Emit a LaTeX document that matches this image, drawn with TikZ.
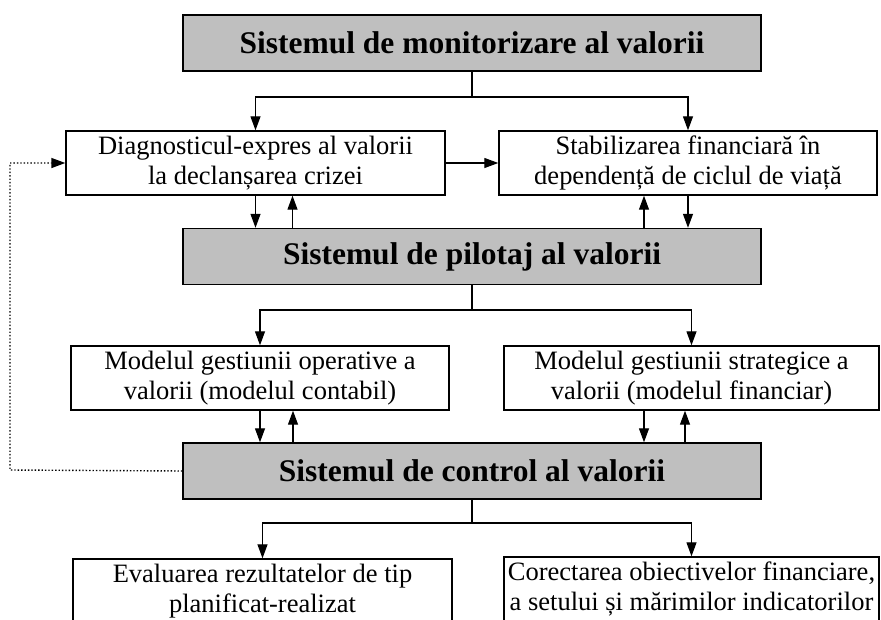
\documentclass[tikz,border=0pt]{standalone}
\usepackage{fontspec}
\setmainfont{Liberation Serif}
\usetikzlibrary{arrows.meta}

\tikzset{
  sysbox/.style={draw, line width=1.4pt, fill=black!25, minimum width=578pt,
    minimum height=56pt, font=\fontsize{31.5}{36}\selectfont\bfseries},
  modbox/.style={draw, line width=1.4pt, fill=white, minimum height=64pt,
    align=center, inner sep=2pt, font=\fontsize{26.5}{30}\selectfont},
  arr/.style={line width=1.2pt, -{Triangle[length=14pt,width=10pt]}},
  feedback/.style={line width=1.4pt, dotted, -{Triangle[length=14pt,width=10pt]}},
}

\begin{document}
\begin{tikzpicture}[x=1pt,y=-1pt]
    \useasboundingbox (0,0) rectangle (881,619);
    \clip (0,0) rectangle (881,619);

    % monitorizare
    \node[sysbox] (mon) at (472,43) {Sistemul de monitorizare al valorii};
    \node[modbox, minimum width=379pt] (diag) at (255.5,163) {Diagnosticul-expres al valorii\\la declanșarea crizei};
    \node[modbox, minimum width=378pt] (stab) at (688,163) {Stabilizarea financiară în\\dependență de ciclul de viață};
    \coordinate (monj) at (472,97);
    \draw[line width=1.2pt] (mon.south) -- (monj);
    \draw[arr] (monj) -| (diag.north);
    \draw[arr] (monj) -| (stab.north);
    \draw[arr] (diag.east) -- (stab.west);

    % pilotaj
    \node[sysbox] (pil) at (472,256.5) {Sistemul de pilotaj al valorii};
    \draw[arr] (diag.south) -- (diag.south |- pil.north);
    \draw[arr] ([xshift=37pt]diag.south |- pil.north) -- ([xshift=37pt]diag.south);
    \draw[arr] ([xshift=-44pt]stab.south |- pil.north) -- ([xshift=-44pt]stab.south);
    \draw[arr] (stab.south) -- (stab.south |- pil.north);

    \node[modbox, minimum width=378pt] (oper) at (260,378) {Modelul gestiunii operative a\\valorii (modelul contabil)};
    \node[modbox, minimum width=375pt] (strat) at (691.5,378) {Modelul gestiunii strategice a\\valorii (modelul financiar)};
    \coordinate (pilj) at (472,310);
    \draw[line width=1.2pt] (pil.south) -- (pilj);
    \draw[arr] (pilj) -| (oper.north);
    \draw[arr] (pilj) -| (strat.north);

    % control
    \node[sysbox] (ctrl) at (472,471) {Sistemul de control al valorii};
    \draw[arr] (oper.south) -- (oper.south |- ctrl.north);
    \draw[arr] ([xshift=33pt]oper.south |- ctrl.north) -- ([xshift=33pt]oper.south);
    \draw[arr] ([xshift=-47.5pt]strat.south) -- ([xshift=-47.5pt]strat.south |- ctrl.north);
    \draw[arr] ([xshift=-6.5pt]strat.south |- ctrl.north) -- ([xshift=-6.5pt]strat.south);

    \node[modbox, minimum width=379pt] (eval) at (262.5,591) {Evaluarea rezultatelor de tip\\planificat-realizat};
    \node[modbox, minimum width=375pt] (corr) at (691.5,589) {Corectarea obiectivelor financiare,\\a setului și mărimilor indicatorilor};
    \coordinate (ctrlj) at (472,523);
    \draw[line width=1.2pt] (ctrl.south) -- (ctrlj);
    \draw[arr] (ctrlj) -| (eval.north);
    \draw[arr] (ctrlj) -| (corr.north);

    % feedback
    \coordinate (fb) at (10,470);
    \draw[feedback] (ctrl.west) -- (fb) |- (diag.west);
\end{tikzpicture}
\end{document}
